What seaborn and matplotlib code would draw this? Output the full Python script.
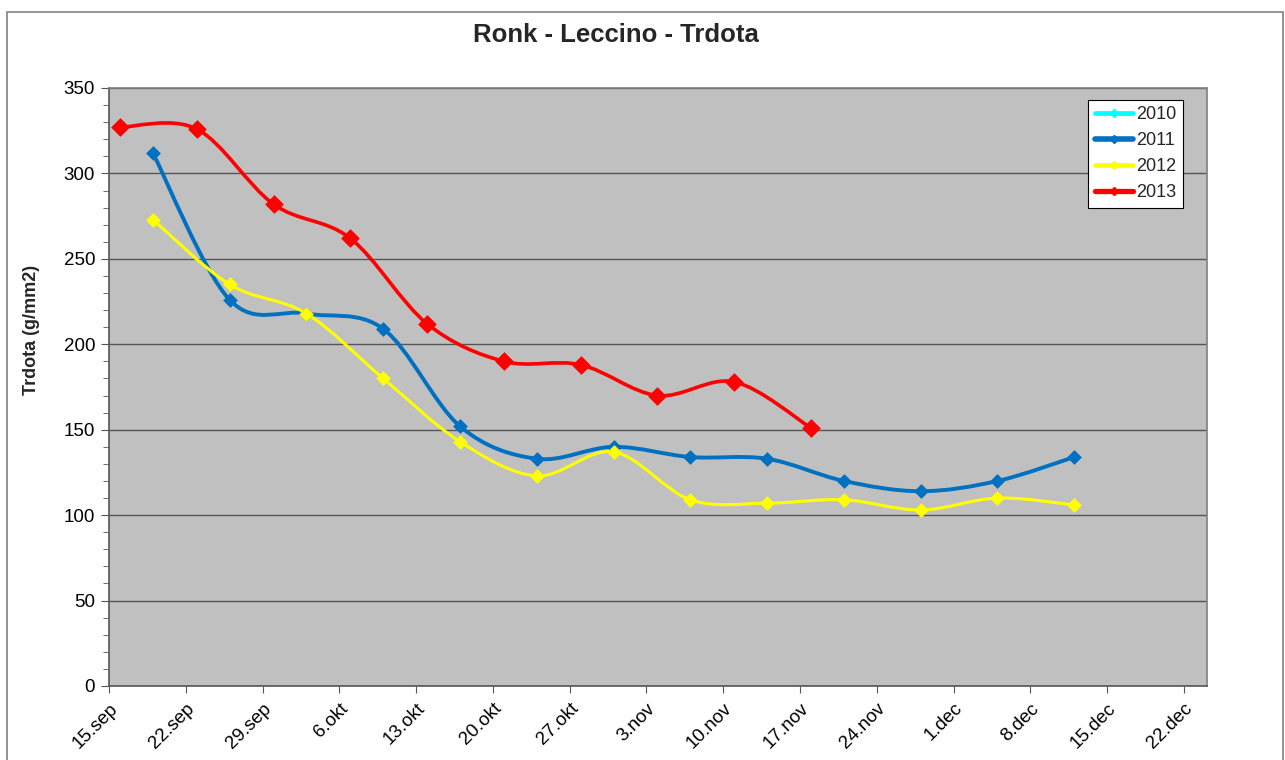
import numpy as np
import pandas as pd
import matplotlib
matplotlib.use("Agg")
import matplotlib.pyplot as plt
import matplotlib.dates as mdates
from matplotlib.path import Path
from matplotlib.patches import PathPatch, Rectangle
from matplotlib.lines import Line2D
import seaborn as sns

# data (year 2013 used as calendar reference)
dates_2013 = ["2013-09-16", "2013-09-23", "2013-09-30", "2013-10-07", "2013-10-14",
              "2013-10-21", "2013-10-28", "2013-11-04", "2013-11-11", "2013-11-18"]
vals_2013 = [327, 326, 282, 262, 212, 190, 188, 170, 178, 151]

dates_2011 = ["2013-09-19", "2013-09-26", "2013-10-03", "2013-10-10", "2013-10-17",
              "2013-10-24", "2013-10-31", "2013-11-07", "2013-11-14", "2013-11-21",
              "2013-11-28", "2013-12-05", "2013-12-12"]
vals_2011 = [312, 226, 218, 209, 152, 133, 140, 134, 133, 120, 114, 120, 134]

dates_2012 = dates_2011
vals_2012 = [273, 235, 218, 180, 143, 123, 137, 109, 107, 109, 103, 110, 106]

tick_dates = pd.date_range("2013-09-15", "2013-12-22", freq="7D")
tick_labels = ["15.sep", "22.sep", "29.sep", "6.okt", "13.okt", "20.okt", "27.okt",
               "3.nov", "10.nov", "17.nov", "24.nov", "1.dec", "8.dec", "15.dec", "22.dec"]

series = [
    ("2010", [], [], "#00FFFF", 2.2, 6),
    ("2011", dates_2011, vals_2011, "#0070C0", 2.8, 7),
    ("2012", dates_2012, vals_2012, "#FFFF00", 2.2, 7),
    ("2013", dates_2013, vals_2013, "#FF0000", 2.6, 9),
]

sns.set_style("white")
plt.rcParams["font.family"] = ["Liberation Sans", "DejaVu Sans"]

fig = plt.figure(figsize=(12.85, 7.6), dpi=100)
ax = fig.add_axes([109 / 1285, 1 - 686 / 760, (1207 - 109) / 1285, (686 - 88) / 760])
ax.set_facecolor("#C0C0C0")

# chart frame
fig.patches.append(Rectangle((7 / 1285, -0.1), (1283 - 7) / 1285, (760 - 12) / 760 + 0.1,
                             transform=fig.transFigure, fill=False,
                             edgecolor="#808080", linewidth=1.2))


def smooth_path(x, y, t=1 / 6):
    # Bezier path like Excel's smoothed line, control points from neighbours
    n = len(x)
    verts = [(x[0], y[0])]
    codes = [Path.MOVETO]
    for i in range(n - 1):
        x0, y0 = (x[i - 1], y[i - 1]) if i > 0 else (x[i], y[i])
        x3, y3 = (x[i + 2], y[i + 2]) if i + 2 < n else (x[i + 1], y[i + 1])
        c1 = (x[i] + (x[i + 1] - x0) * t, y[i] + (y[i + 1] - y0) * t)
        c2 = (x[i + 1] - (x3 - x[i]) * t, y[i + 1] - (y3 - y[i]) * t)
        verts += [c1, c2, (x[i + 1], y[i + 1])]
        codes += [Path.CURVE4] * 3
    return Path(verts, codes)


handles = []
for name, d, v, color, lw, ms in series:
    if len(d):
        dd = pd.to_datetime(d)
        xs = mdates.date2num(dd)
        ax.add_patch(PathPatch(smooth_path(xs, np.array(v, float)), fill=False,
                               edgecolor=color, linewidth=lw, zorder=3,
                               capstyle="round", joinstyle="round"))
        sns.scatterplot(x=dd, y=v, ax=ax, marker="D", color=color, s=ms ** 2,
                        edgecolor=color, linewidth=0.5, zorder=4, legend=False)
    handles.append(Line2D([], [], color=color, linewidth=lw + 1.2, marker="D",
                          markersize=4, label=name))

ax.set_xlim(pd.Timestamp("2013-09-15"), pd.Timestamp("2013-09-15") + pd.Timedelta(days=100.1))
ax.set_ylim(0, 350)
ax.set_yticks(np.arange(0, 351, 50))
ax.set_yticks(np.arange(0, 351, 10), minor=True)
ax.set_xticks(tick_dates)
ax.set_xticklabels(tick_labels, rotation=45, ha="right", rotation_mode="anchor")
ax.tick_params(axis="both", labelsize=13.5, colors="#000000")
ax.tick_params(axis="y", which="both", left=True, direction="out", length=6,
               color="#555555", pad=4)
ax.tick_params(axis="y", which="minor", left=True, length=4)
ax.tick_params(axis="x", bottom=True, direction="out", length=5, color="#555555", pad=5)
ax.grid(axis="y", which="major", color="#555555", linewidth=1.0)
ax.set_axisbelow(True)
for s in ax.spines.values():
    s.set_color("#808080")
    s.set_linewidth(1.2)
ax.spines["left"].set_color("#555555")
ax.spines["bottom"].set_color("#555555")

ax.set_xlabel("")
ax.set_ylabel("")
fig.text(31 / 1285, 1 - 330 / 760, "Trdota (g/mm2)", rotation=90, ha="center", va="center",
         fontsize=13, fontweight="bold")
fig.text(616 / 1285, 1 - 35 / 760, "Ronk - Leccino - Trdota", ha="center", va="center",
         fontsize=18.5, fontweight="bold")

leg = ax.legend(handles=handles, loc="upper right", bbox_to_anchor=(0.978, 0.98),
                fontsize=13, frameon=True, fancybox=False, handlelength=2.1,
                handletextpad=0.2, borderpad=0.35, labelspacing=0.5,
                borderaxespad=0, framealpha=1)
leg.get_frame().set_edgecolor("#000000")
leg.get_frame().set_facecolor("white")
leg.get_frame().set_linewidth(0.8)

fig.savefig("out.png", dpi=100)
